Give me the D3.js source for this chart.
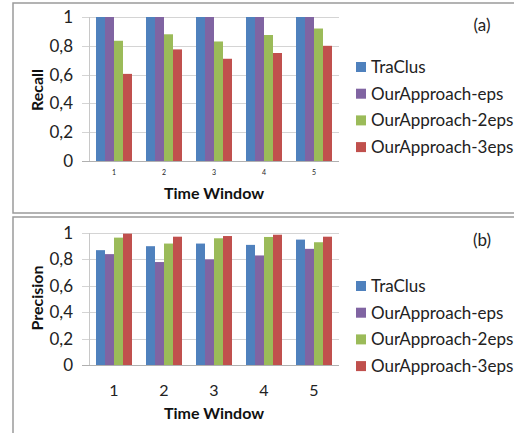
<!DOCTYPE html>
<html>
<head>
<meta charset="utf-8">
<script src="https://cdn.jsdelivr.net/npm/d3@7"></script>
<style>
  body { margin: 0; background: #fff; }
  svg { display: block; font-family: Lato, "Open Sans", sans-serif; }
</style>
</head>
<body>
<div id="chart"></div>
<script>
var windows = ["1", "2", "3", "4", "5"];
var seriesNames = ["TraClus", "OurApproach-eps", "OurApproach-2eps", "OurApproach-3eps"];
var seriesColors = ["#4f81bd", "#8064a2", "#9bbb59", "#c0504d"];
var yTicks = [0, 0.2, 0.4, 0.6, 0.8, 1];

// recall per series, window 1..5
var recallTraClus = [1, 1, 1, 1, 1];
var recallEps = [1, 1, 1, 1, 1];
var recall2Eps = [0.835, 0.88, 0.83, 0.875, 0.92];
var recall3Eps = [0.605, 0.775, 0.71, 0.75, 0.80];

// precision per series, window 1..5
var precTraClus = [0.87, 0.90, 0.92, 0.91, 0.95];
var precEps = [0.84, 0.78, 0.80, 0.83, 0.88];
var prec2Eps = [0.965, 0.92, 0.96, 0.97, 0.93];
var prec3Eps = [0.995, 0.972, 0.977, 0.987, 0.972];

var width = 514;
var height = 433;

var svg = d3.select("#chart")
    .append("svg")
    .attr("width", width)
    .attr("height", height);

// panel frames
svg.append("rect")
    .attr("x", 13).attr("y", 3)
    .attr("width", 520).attr("height", 210)
    .attr("fill", "none").attr("stroke", "#9a9a9a").attr("stroke-width", 1.5);
svg.append("rect")
    .attr("x", 13).attr("y", 217)
    .attr("width", 520).attr("height", 240)
    .attr("fill", "none").attr("stroke", "#9a9a9a").attr("stroke-width", 1.5);

function drawPanel(opts) {
    var g = svg.append("g");
    var series = opts.series;

    var xScale = d3.scaleBand()
        .domain(windows)
        .range([89, 339])
        .paddingInner(0.28)
        .paddingOuter(0.14);

    var xInner = d3.scaleBand()
        .domain(d3.range(series.length))
        .range([0, xScale.bandwidth()]);

    var yScale = d3.scaleLinear()
        .domain([0, 1])
        .range([opts.bottom, opts.top]);

    // gridlines
    g.selectAll("line.grid")
        .data(yTicks)
        .enter()
        .append("line")
        .attr("x1", 82)
        .attr("x2", 339)
        .attr("y1", function(d) { return Math.round(yScale(d)) + 0.5; })
        .attr("y2", function(d) { return Math.round(yScale(d)) + 0.5; })
        .attr("stroke", function(d) { return d === 0 ? "#b0b0b0" : "#d4d4d4"; })
        .attr("stroke-width", 1);

    g.append("line")
        .attr("x1", 89.5).attr("x2", 89.5)
        .attr("y1", yScale(1)).attr("y2", yScale(0))
        .attr("stroke", "#c8c8c8");

    // y tick labels
    g.selectAll("text.ytick")
        .data(yTicks)
        .enter()
        .append("text")
        .attr("x", 73)
        .attr("y", function(d) { return yScale(d); })
        .attr("dy", "0.35em")
        .attr("text-anchor", "end")
        .attr("font-size", "17px")
        .attr("fill", "#222")
        .text(function(d) { return d3.format(".1~f")(d).replace(".", ","); });

    // bars
    series.forEach(function(vals, si) {
        g.selectAll("rect.s" + si)
            .data(vals)
            .enter()
            .append("rect")
            .attr("x", function(d, i) { return xScale(windows[i]) + xInner(si); })
            .attr("y", function(d) { return yScale(d); })
            .attr("width", xInner.bandwidth())
            .attr("height", function(d) { return yScale(0) - yScale(d); })
            .attr("fill", seriesColors[si]);
    });

    // x tick labels
    g.selectAll("text.xtick")
        .data(windows)
        .enter()
        .append("text")
        .attr("x", function(d) { return xScale(d) + xScale.bandwidth() / 2; })
        .attr("y", opts.xTickY)
        .attr("dy", "0.35em")
        .attr("text-anchor", "middle")
        .attr("font-size", opts.xTickSize)
        .attr("fill", "#222")
        .text(function(d) { return d; });

    g.append("text")
        .attr("x", 214)
        .attr("y", opts.xTitleY)
        .attr("dy", "0.35em")
        .attr("text-anchor", "middle")
        .attr("font-size", "16px")
        .attr("font-weight", "bold")
        .attr("fill", "#111")
        .text("Time Window");

    g.append("text")
        .attr("transform", "translate(37," + opts.yTitleY + ") rotate(-90)")
        .attr("dy", "0.35em")
        .attr("text-anchor", "middle")
        .attr("font-size", "16px")
        .attr("font-weight", "bold")
        .attr("fill", "#111")
        .text(opts.yTitle);

    // legend
    var legend = g.selectAll("g.legend")
        .data(seriesNames)
        .enter()
        .append("g")
        .attr("transform", function(d, i) { return "translate(356," + (opts.legendY + i * 26.7) + ")"; });

    legend.append("rect")
        .attr("x", 0).attr("y", -5)
        .attr("width", 10).attr("height", 10)
        .attr("fill", function(d, i) { return seriesColors[i]; });

    legend.append("text")
        .attr("x", 15)
        .attr("dy", "0.35em")
        .attr("font-size", "17px")
        .attr("fill", "#222")
        .text(function(d) { return d; });

    g.append("text")
        .attr("x", 482)
        .attr("y", opts.labelY)
        .attr("dy", "0.35em")
        .attr("text-anchor", "middle")
        .attr("font-size", "17px")
        .attr("fill", "#222")
        .text(opts.label);
}

drawPanel({
    series: [recallTraClus, recallEps, recall2Eps, recall3Eps],
    top: 17, bottom: 161,
    xTickY: 173, xTickSize: "7px",
    xTitleY: 193,
    yTitle: "Recall", yTitleY: 90,
    legendY: 67,
    label: "(a)", labelY: 25
});

drawPanel({
    series: [precTraClus, precEps, prec2Eps, prec3Eps],
    top: 233, bottom: 365,
    xTickY: 390, xTickSize: "16px",
    xTitleY: 413,
    yTitle: "Precision", yTitleY: 298,
    legendY: 286,
    label: "(b)", labelY: 240
});
</script>
</body>
</html>
